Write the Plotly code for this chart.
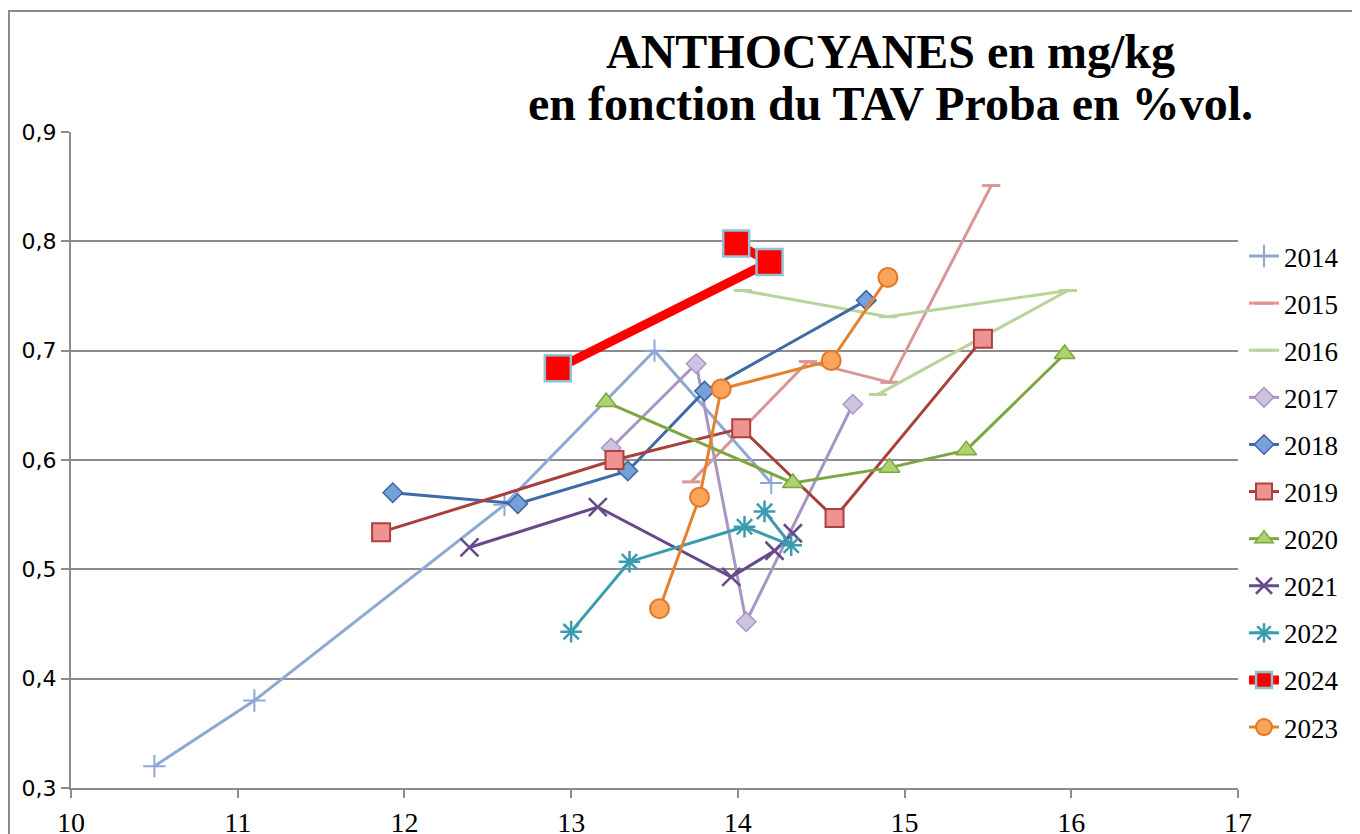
import plotly.graph_objects as go

# ---- data ----
years = ["2014", "2015", "2016", "2017", "2018", "2019", "2020", "2021", "2022", "2024", "2023"]

x_2014 = [10.50, 11.10, 12.60, 13.50, 14.20]
y_2014 = [0.320, 0.380, 0.559, 0.700, 0.579]

x_2015 = [13.72, 14.42, 14.91, 15.52]
y_2015 = [0.580, 0.690, 0.671, 0.851]

x_2016 = [14.03, 14.90, 15.98, 14.84]
y_2016 = [0.755, 0.731, 0.755, 0.660]

x_2017 = [13.24, 13.75, 14.05, 14.69]
y_2017 = [0.611, 0.688, 0.452, 0.651]

x_2018 = [11.93, 12.68, 13.34, 13.80, 14.77]
y_2018 = [0.570, 0.560, 0.590, 0.663, 0.746]

x_2019 = [11.86, 13.26, 14.02, 14.58, 15.47]
y_2019 = [0.534, 0.600, 0.629, 0.547, 0.711]

x_2020 = [13.21, 14.33, 14.91, 15.37, 15.96]
y_2020 = [0.653, 0.579, 0.593, 0.609, 0.697]

x_2021 = [12.39, 13.16, 13.96, 14.22, 14.33]
y_2021 = [0.520, 0.557, 0.493, 0.517, 0.533]

x_2022 = [13.00, 13.35, 14.04, 14.32, 14.16]
y_2022 = [0.443, 0.507, 0.539, 0.522, 0.553]

x_2024 = [12.92, 14.19, 13.99]
y_2024 = [0.684, 0.781, 0.798]

x_2023 = [13.53, 13.77, 13.90, 14.56, 14.90]
y_2023 = [0.464, 0.566, 0.665, 0.691, 0.767]

xs = {"2014": x_2014, "2015": x_2015, "2016": x_2016, "2017": x_2017, "2018": x_2018,
      "2019": x_2019, "2020": x_2020, "2021": x_2021, "2022": x_2022, "2024": x_2024,
      "2023": x_2023}
ys = {"2014": y_2014, "2015": y_2015, "2016": y_2016, "2017": y_2017, "2018": y_2018,
      "2019": y_2019, "2020": y_2020, "2021": y_2021, "2022": y_2022, "2024": y_2024,
      "2023": y_2023}

title_line1 = "ANTHOCYANES en mg/kg"
title_line2 = "en fonction du TAV Proba en %vol."

x_ticks = [10, 11, 12, 13, 14, 15, 16, 17]
y_ticks = [0.3, 0.4, 0.5, 0.6, 0.7, 0.8, 0.9]

# ---- styles ----
styles = {
    "2014": dict(lc="#8EA8D4", lw=3, sym="cross-thin-open", ms=16, fill="#8EA8D4", mlc="#8EA8D4", mlw=2),
    "2015": dict(lc="#D99694", lw=3, sym="line-ew-open", ms=13, fill="#D99694", mlc="#D99694", mlw=3),
    "2016": dict(lc="#B9D49A", lw=3, sym="line-ew-open", ms=13, fill="#B9D49A", mlc="#B9D49A", mlw=3),
    "2017": dict(lc="#A796C2", lw=3, sym="diamond", ms=15, fill="#CEC2E0", mlc="#A796C2", mlw=1.5),
    "2018": dict(lc="#3E6BA5", lw=3, sym="diamond", ms=15, fill="#76A0DA", mlc="#3A66A0", mlw=1.5),
    "2019": dict(lc="#A8403E", lw=3, sym="square", ms=18, fill="#EE9292", mlc="#B0403E", mlw=2),
    "2020": dict(lc="#7EA640", lw=3, sym="triangle-up", ms=18, fill="#ABD36F", mlc="#7EA640", mlw=1.5),
    "2021": dict(lc="#674A8A", lw=3, sym="x-thin-open", ms=18, fill="#674A8A", mlc="#674A8A", mlw=2.5),
    "2022": dict(lc="#3B9BB0", lw=3, sym="asterisk-open", ms=18, fill="#3B9BB0", mlc="#3B9BB0", mlw=2.5),
    "2024": dict(lc="#FF0000", lw=9, sym="square", ms=26, fill="#FF0000", mlc="#8DC2D9", mlw=2.5),
    "2023": dict(lc="#E5812D", lw=3, sym="circle", ms=19, fill="#FBA45A", mlc="#E0782A", mlw=2),
}

fig = go.Figure()
for i, yr in enumerate(years):
    s = styles[yr]
    fig.add_trace(go.Scatter(
        x=xs[yr], y=ys[yr], name=yr, mode="lines+markers",
        legendgroup="g%d" % i,
        line=dict(color=s["lc"], width=s["lw"]),
        marker=dict(symbol=s["sym"], size=s["ms"], color=s["fill"],
                    line=dict(color=s["mlc"], width=s["mlw"])),
    ))

axis_grey = "#8C8C8C"
serif = "Liberation Serif, Times New Roman, serif"

W, H = 1360, 834
OFF = 8  # page body margin
PL, PR, PT, PB = 71 - OFF, 1238 - OFF, 132 - OFF, 788 - OFF
PW, PH = PR - PL, PB - PT


def px(xpage):
    return (xpage - OFF - PL) / PW


def py(ypage):
    return (PB - (ypage - OFF)) / PH


fig.update_layout(
    width=W, height=H,
    margin=dict(l=PL, r=W - PR, t=PT, b=H - PB, autoexpand=False),
    paper_bgcolor="white", plot_bgcolor="white",
    separators=", ",
    showlegend=True,
    legend=dict(
        xref="container", yref="container",
        x=(1244 - OFF) / W, y=1 - (232 - OFF) / H, xanchor="left", yanchor="top",
        font=dict(family=serif, size=27, color="black"),
        tracegroupgap=9, traceorder="grouped",
        bgcolor="rgba(0,0,0,0)", itemwidth=30, maxheight=800,
    ),
    xaxis=dict(
        range=[10, 17], tickvals=x_ticks, ticktext=[str(v) for v in x_ticks],
        showgrid=False, zeroline=False,
        showline=True, linecolor=axis_grey, linewidth=2,
        ticks="outside", ticklen=8, tickwidth=2, tickcolor=axis_grey,
        tickfont=dict(family=serif, size=28, color="black"),
    ),
    yaxis=dict(
        range=[0.3, 0.9], tickvals=y_ticks, tickformat=".1f",
        showgrid=True, gridcolor=axis_grey, gridwidth=2, zeroline=False,
        showline=True, linecolor=axis_grey, linewidth=2,
        ticks="outside", ticklen=8, tickwidth=2, tickcolor=axis_grey,
        tickfont=dict(family="DejaVu Sans", size=22, color="black"),
    ),
    annotations=[
        dict(text="<b>%s</b>" % title_line1, xref="paper", yref="paper",
             x=px(890), y=py(52), xanchor="center", yanchor="middle",
             showarrow=False, font=dict(family=serif, size=48, color="black")),
        dict(text="<b>%s</b>" % title_line2, xref="paper", yref="paper",
             x=px(890), y=py(104), xanchor="center", yanchor="middle",
             showarrow=False, font=dict(family=serif, size=48, color="black")),
    ],
    shapes=[
        dict(type="rect", xref="paper", yref="paper",
             x0=px(9), x1=px(1380), y0=py(860), y1=py(11),
             line=dict(color=axis_grey, width=2), fillcolor="rgba(0,0,0,0)", layer="below"),
    ],
)

fig.write_html("out.html")
